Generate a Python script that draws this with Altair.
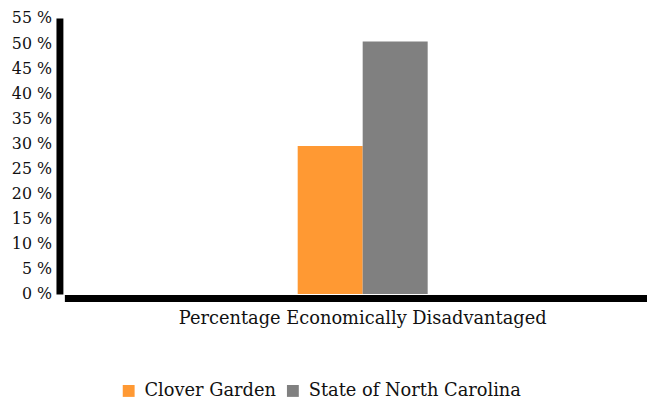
import altair as alt
import pandas as pd

categories = ["Percentage Economically Disadvantaged"]
series = ["Clover Garden", "State of North Carolina"]
values = [29.5, 50.3]
colors = ["#FF9933", "#808080"]
y_ticks = list(range(0, 60, 5))

df = pd.DataFrame({
    "category": [categories[0]] * len(series),
    "series": series,
    "value": values,
})

FONT = "Georgia, DejaVu Serif"

chart = alt.Chart(df).mark_bar().encode(
    x=alt.X("category:N",
            scale=alt.Scale(paddingInner=0, paddingOuter=1, align=0.518),
            axis=alt.Axis(title=None, labelAngle=0, labelFont=FONT, labelFontSize=18,
                          labelColor="#111", labelLimit=1000, labelPadding=12,
                          ticks=False, tickSize=0, domainColor="black", domainWidth=7,
                          offset=4)),
    xOffset=alt.XOffset("series:N", sort=series,
                        scale=alt.Scale(paddingInner=0, paddingOuter=0.494, align=0.5)),
    y=alt.Y("value:Q",
            scale=alt.Scale(domain=[0, 55], nice=False, zero=True),
            axis=alt.Axis(title=None, values=y_ticks, labelExpr="datum.value + ' %'",
                          labelFont=FONT, labelFontSize=16, labelColor="#111",
                          labelPadding=8, ticks=False, tickSize=0, grid=False,
                          domainColor="black", domainWidth=7, offset=5)),
    color=alt.Color("series:N", sort=series,
                    scale=alt.Scale(domain=series, range=colors),
                    legend=alt.Legend(title=None, orient="none", direction="horizontal",
                                      legendX=56, legendY=368,
                                      symbolType="square", symbolSize=144,
                                      symbolStrokeWidth=0, labelFont=FONT,
                                      labelFontSize=18, labelColor="#111",
                                      labelLimit=1000,
                                      labelOffset=7, columnPadding=8, padding=0)),
).properties(
    width=589,
    height=279,
    autosize=alt.AutoSizeParams(type="none"),
    padding={"left": 57, "top": 8, "right": 0, "bottom": 105},
).configure_view(stroke=None)

chart.save("out.html", embed_options={"renderer": "svg", "actions": False})
